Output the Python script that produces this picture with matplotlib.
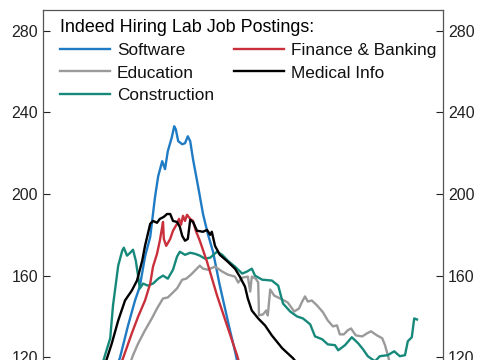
import matplotlib
matplotlib.use("Agg")
import matplotlib.pyplot as plt

plt.rcParams['font.family'] = ['Liberation Sans', 'DejaVu Sans']

# x = months since July 2020, y = index level
sw_x = [8.6, 9.6, 10.6, 11.5, 12.1, 12.75, 13.4, 14.0, 14.4, 14.9, 15.25, 15.6, 16.1, 16.4, 16.6, 16.9,
        17.4, 17.75, 18.1, 18.4, 18.75, 19.4, 20.0, 20.6, 21.25, 22.1, 23.4, 24.0, 24.6]
sw_y = [109.8, 119.5, 135.1, 147.8, 154.6, 169.3, 179.0, 198.5, 208.8, 216.1, 212.2, 221.0, 227.8, 233.2,
        231.7, 225.9, 224.4, 224.9, 228.3, 225.9, 217.1, 203.4, 190.2, 180.5, 171.7, 155.1, 132.7, 122.9, 112.2]

fin_x = [9.0, 10.0, 11.1, 11.9, 12.75, 13.4, 13.75, 14.25, 14.6, 14.9, 15.0, 15.1, 15.4, 15.9, 16.25,
         16.75, 17.0, 17.25, 17.5, 17.75, 18.0, 18.4, 18.75, 19.1, 19.6, 20.5, 21.75, 23.0, 24.25, 24.9]
fin_y = [109.8, 119.5, 131.7, 140.0, 147.8, 156.1, 164.4, 170.7, 177.1, 183.9, 186.3, 178.0, 174.6, 178.0,
         182.0, 185.4, 187.8, 184.9, 189.3, 186.8, 189.8, 187.8, 186.8, 182.0, 177.1, 166.8, 150.3, 135.6,
         121.0, 112.2]

edu_x = [10.25, 11.25, 11.9, 12.75, 13.6, 14.25, 15.0, 15.6, 16.1, 16.75, 17.4, 17.9, 18.5, 19.1, 19.6,
         20.0, 20.6, 21.5, 22.4, 23.1, 24.0, 24.4, 24.9, 25.6, 25.9, 26.1, 26.6, 26.9, 27.0, 27.5, 27.9,
         28.1, 28.4, 28.9, 29.9, 30.6, 31.4, 32.0, 32.4, 32.75, 33.1, 33.6, 34.25, 35.0, 35.6, 36.25,
         36.75, 37.1, 37.6, 38.1, 38.5, 39.1, 39.9, 40.5, 41.0, 41.75, 42.4, 42.75, 43.1, 43.6]
edu_y = [109.8, 121.0, 126.8, 133.2, 139.0, 143.9, 148.8, 149.3, 151.2, 153.7, 158.0, 158.5, 160.5, 162.9,
         164.9, 163.4, 162.9, 164.4, 162.0, 160.5, 159.5, 156.6, 159.0, 159.5, 152.2, 159.5, 158.5, 156.6,
         140.5, 141.0, 142.9, 140.5, 153.2, 150.2, 148.3, 146.8, 142.4, 143.9, 147.3, 149.8, 147.3, 147.8,
         145.4, 142.0, 138.0, 135.1, 135.6, 131.2, 131.2, 133.2, 134.1, 130.7, 130.2, 131.7, 132.7, 130.7,
         129.3, 125.9, 121.0, 113.7]

med_x = [7.1, 8.0, 8.6, 9.4, 10.25, 11.1, 11.75, 12.4, 12.75, 13.4, 13.75, 14.25, 14.6, 15.1, 15.5, 15.9,
         16.25, 16.75, 17.1, 17.4, 17.75, 18.1, 18.4, 18.75, 19.25, 20.0, 20.5, 20.9, 21.1, 21.5, 22.1,
         23.1, 24.0, 24.6, 25.25, 25.6, 26.1, 26.9, 27.75, 28.6, 29.9, 31.25, 32.75]
med_y = [109.8, 119.5, 126.8, 138.0, 147.8, 152.7, 157.6, 167.3, 174.6, 185.4, 186.8, 185.9, 187.8, 188.8,
         190.2, 190.2, 186.8, 186.3, 183.9, 179.5, 177.1, 178.0, 187.3, 186.3, 182.0, 181.5, 182.4, 180.0,
         181.5, 174.6, 170.2, 166.8, 163.4, 159.5, 154.6, 148.8, 142.9, 139.0, 135.6, 130.7, 124.4, 119.5,
         112.2]

con_x = [6.9, 7.75, 8.4, 8.75, 9.4, 9.9, 10.1, 10.5, 10.9, 11.25, 11.6, 11.9, 12.1, 12.5, 13.1, 13.75,
         14.4, 15.0, 15.6, 16.25, 16.75, 17.1, 17.75, 18.4, 19.0, 19.6, 20.25, 20.9, 21.75, 22.4, 23.1,
         24.0, 24.9, 25.5, 26.1, 26.5, 27.4, 28.6, 29.4, 30.0, 30.9, 31.75, 32.5, 33.4, 34.0, 34.9, 35.6,
         36.5, 36.9, 37.75, 38.6, 39.4, 40.0, 40.6, 41.5, 42.1, 43.1, 43.9, 44.6, 45.25, 45.6, 46.1, 46.4,
         46.75]
con_y = [109.8, 121.0, 129.3, 145.4, 164.9, 172.2, 173.7, 169.8, 171.2, 172.7, 167.3, 159.5, 153.7, 156.1,
         155.1, 156.1, 158.5, 160.0, 158.5, 162.9, 169.3, 171.7, 170.2, 171.2, 170.7, 169.8, 168.3, 168.8,
         171.7, 170.2, 167.3, 164.4, 161.0, 162.0, 163.4, 160.0, 158.0, 157.6, 155.1, 146.3, 142.4, 140.0,
         139.0, 136.1, 130.2, 128.8, 126.3, 125.9, 123.4, 125.9, 129.8, 126.8, 123.9, 120.5, 118.0, 120.5,
         121.0, 122.9, 120.5, 121.0, 127.8, 129.8, 139.0, 138.5]

y_ticks = [120, 160, 200, 240, 280]

fig = plt.figure(figsize=(4.85, 3.6), dpi=100)
ax = fig.add_axes([0.0887, -0.1056, 0.8247, 1.0778])

lw = 1.7
ax.plot(sw_x, sw_y, color='#1f7bc4', lw=lw, label='Software')
ax.plot(edu_x, edu_y, color='#9a9a9a', lw=lw, label='Education')
ax.plot(con_x, con_y, color='#17897a', lw=lw, label='Construction')
ax.plot(fin_x, fin_y, color='#c9303c', lw=lw, label='Finance & Banking')
ax.plot(med_x, med_y, color='#000000', lw=lw, label='Medical Info')

ax.set_xlim(0, 50)
ax.set_ylim(100, 290.2)
ax.set_yticks(y_ticks)
ax.set_xticks([])
ax.tick_params(axis='y', direction='in', length=5, width=0.8, labelsize=11.5,
               left=True, right=True, labelleft=True, labelright=True, colors='#222222')
for s in ax.spines.values():
    s.set_color('#555555')
    s.set_linewidth(0.9)

leg = ax.legend(title='Indeed Hiring Lab Job Postings:', ncol=2, frameon=False,
                loc='upper left', bbox_to_anchor=(0.042, 0.977), borderpad=0, borderaxespad=0,
                fontsize=12.4, title_fontsize=12.9, handlelength=2.9, handletextpad=0.42,
                columnspacing=1.15, labelspacing=0.42, alignment='left')
leg.get_title().set_position((0, 0))
for t in leg.get_texts():
    t.set_color('#111111')

fig.savefig('out.png', dpi=100)
